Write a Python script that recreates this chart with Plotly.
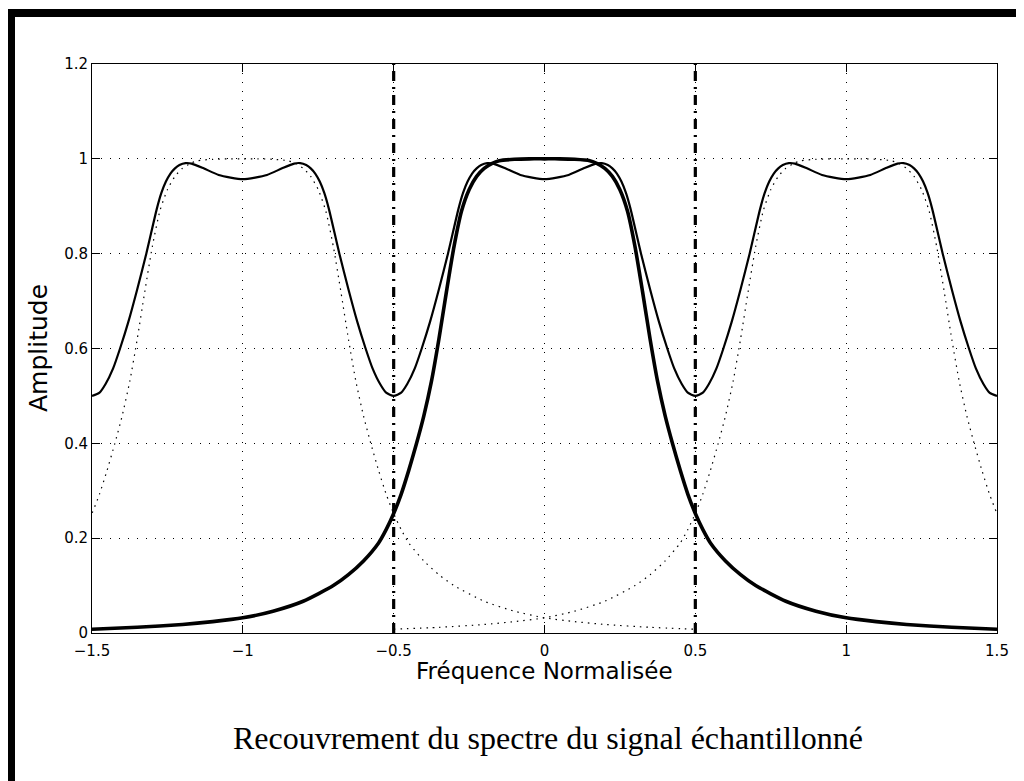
import plotly.graph_objects as go

# ---------------- data ----------------
x_tickvals = [-1.5, -1, -0.5, 0, 0.5, 1, 1.5]
x_ticktext = ["\u22121.5", "\u22121", "\u22120.5", "0", "0.5", "1", "1.5"]
y_tickvals = [0, 0.2, 0.4, 0.6, 0.8, 1, 1.2]
y_ticktext = ["0", "0.2", "0.4", "0.6", "0.8", "1", "1.2"]

# central spectrum (thick solid)
freq_main = [-1.5, -1.35, -1.2, -1.1, -1.0, -0.9, -0.8, -0.7, -0.65, -0.6, -0.55, -0.525,
             -0.5, -0.475, -0.45, -0.425, -0.4, -0.375, -0.35, -0.325, -0.3, -0.275, -0.25,
             -0.225, -0.2, -0.175, -0.15, -0.1, -0.05, 0.0, 0.05, 0.1, 0.15, 0.175, 0.2,
             0.225, 0.25, 0.275, 0.3, 0.325, 0.35, 0.375, 0.4, 0.425, 0.45, 0.475, 0.5,
             0.525, 0.55, 0.6, 0.65, 0.7, 0.8, 0.9, 1.0, 1.1, 1.2, 1.35, 1.5]
amp_main = [0.008, 0.012, 0.018, 0.024, 0.032, 0.046, 0.067, 0.100, 0.123, 0.152, 0.190, 0.218,
            0.252, 0.293, 0.343, 0.398, 0.458, 0.530, 0.62, 0.72, 0.815, 0.89, 0.935,
            0.963, 0.98, 0.99, 0.996, 0.999, 1.0, 1.0, 1.0, 0.999, 0.996, 0.99, 0.98,
            0.963, 0.935, 0.89, 0.815, 0.72, 0.62, 0.530, 0.458, 0.398, 0.343, 0.293, 0.252,
            0.218, 0.190, 0.152, 0.123, 0.100, 0.067, 0.046, 0.032, 0.024, 0.018, 0.012, 0.008]

# shifted replicas of the spectrum (dotted)
replica_shifts = [-1, 1]

# aliased (summed) spectrum (thin solid)
freq_alias = [-1.5, -1.475, -1.455, -1.43, -1.407, -1.38, -1.35, -1.32, -1.285, -1.27, -1.255,
              -1.24, -1.225, -1.21, -1.19, -1.17, -1.13, -1.08, -1.0, -0.92, -0.87, -0.83,
              -0.81, -0.79, -0.775, -0.76, -0.745, -0.73, -0.715, -0.68, -0.65, -0.62, -0.593,
              -0.57, -0.545, -0.525, -0.5, -0.475, -0.455, -0.43, -0.407, -0.38, -0.35, -0.32,
              -0.285, -0.27, -0.255, -0.24, -0.225, -0.21, -0.19, -0.17, -0.13, -0.08, 0.0,
              0.08, 0.13, 0.17, 0.19, 0.21, 0.225, 0.24, 0.255, 0.27, 0.285, 0.32, 0.35, 0.38,
              0.407, 0.43, 0.455, 0.475, 0.5, 0.525, 0.545, 0.57, 0.593, 0.62, 0.65, 0.68,
              0.715, 0.73, 0.745, 0.76, 0.775, 0.79, 0.81, 0.83, 0.87, 0.92, 1.0, 1.08, 1.13,
              1.17, 1.19, 1.21, 1.225, 1.24, 1.255, 1.27, 1.285, 1.32, 1.35, 1.38, 1.407,
              1.43, 1.455, 1.475, 1.5]
amp_alias = [0.50, 0.507, 0.525, 0.558, 0.60, 0.655, 0.725, 0.80, 0.895, 0.928, 0.952,
             0.969, 0.980, 0.987, 0.991, 0.990, 0.980, 0.966, 0.957, 0.966, 0.980, 0.990,
             0.991, 0.987, 0.980, 0.969, 0.952, 0.928, 0.895, 0.80, 0.725, 0.655, 0.60,
             0.558, 0.525, 0.507, 0.50, 0.507, 0.525, 0.558, 0.60, 0.655, 0.725, 0.80,
             0.895, 0.928, 0.952, 0.969, 0.980, 0.987, 0.991, 0.990, 0.980, 0.966, 0.957,
             0.966, 0.980, 0.990, 0.991, 0.987, 0.980, 0.969, 0.952, 0.928, 0.895, 0.80, 0.725, 0.655,
             0.60, 0.558, 0.525, 0.507, 0.50, 0.507, 0.525, 0.558, 0.60, 0.655, 0.725, 0.80,
             0.895, 0.928, 0.952, 0.969, 0.980, 0.987, 0.991, 0.990, 0.980, 0.966, 0.957, 0.966, 0.980,
             0.990, 0.991, 0.987, 0.980, 0.969, 0.952, 0.928, 0.895, 0.80, 0.725, 0.655, 0.60,
             0.558, 0.525, 0.507, 0.50]

# Nyquist limits (dash-dot)
cutoffs = [-0.5, 0.5]
cutoff_span = [0, 1.2]

# ---------------- figure ----------------
# page body adds an 8 px offset; figure is sized so it fills the 1024x781 window
OFF = 8
W, H = 1024 - OFF, 781 - OFF
L, R, T, B = 92 - OFF, 1024 - 997, 64 - OFF, 781 - 633
PW, PH = W - L - R, H - T - B


def px_x(p):
    """window pixel -> paper x"""
    return (p - OFF - L) / PW


def px_y(p):
    """window pixel -> paper y"""
    return (H - B - (p - OFF)) / PH


fig = go.Figure()

for s in replica_shifts:
    fig.add_trace(go.Scatter(
        x=[f + s for f in freq_main], y=amp_main, mode="lines",
        line=dict(color="black", width=1.2, dash="1.5px,5px", shape="spline", smoothing=0.6),
        hoverinfo="skip", showlegend=False))

for c in cutoffs:
    fig.add_trace(go.Scatter(
        x=[c, c], y=cutoff_span, mode="lines",
        line=dict(color="black", width=3.2, dash="10px,6px,2px,6px"),
        hoverinfo="skip", showlegend=False))

fig.add_trace(go.Scatter(
    x=freq_alias, y=amp_alias, mode="lines",
    line=dict(color="black", width=2.2, shape="spline", smoothing=0.6),
    hoverinfo="skip", showlegend=False))

fig.add_trace(go.Scatter(
    x=freq_main, y=amp_main, mode="lines",
    line=dict(color="black", width=3.6, shape="spline", smoothing=0.6),
    hoverinfo="skip", showlegend=False))

axis_common = dict(
    showline=True, linecolor="black", linewidth=1, mirror="ticks",
    ticks="inside", ticklen=8, tickcolor="black", tickwidth=1,
    showgrid=True, gridcolor="black", gridwidth=1, griddash="1px,8px",
    zeroline=False, tickfont=dict(family="DejaVu Sans", size=15, color="black"),
)

fig.update_xaxes(range=[-1.5, 1.5], tickvals=x_tickvals, ticktext=x_ticktext,
                 ticklabelstandoff=4, **axis_common)
fig.update_yaxes(range=[0, 1.2], tickvals=y_tickvals, ticktext=y_ticktext, **axis_common)

fig.add_annotation(text="Fréquence Normalisée", xref="paper", yref="paper",
                   x=px_x(544.5), y=px_y(671), xanchor="center", yanchor="middle",
                   showarrow=False, font=dict(family="DejaVu Sans", size=23, color="black"))
fig.add_annotation(text="Amplitude", xref="paper", yref="paper",
                   x=px_x(38), y=px_y(348), xanchor="center", yanchor="middle", textangle=-90,
                   showarrow=False, font=dict(family="DejaVu Sans", size=25, color="black"))
fig.add_annotation(text="Recouvrement du spectre du signal échantillonné", xref="paper", yref="paper",
                   x=px_x(548), y=px_y(738), xanchor="center", yanchor="middle",
                   showarrow=False, font=dict(family="Liberation Serif", size=32, color="black"))

# black frame bars (left and top edges of the page)
fig.add_shape(type="rect", xref="paper", yref="paper", x0=px_x(8), x1=px_x(15),
              y0=px_y(790), y1=px_y(9), fillcolor="black", line=dict(width=0), layer="above")
fig.add_shape(type="rect", xref="paper", yref="paper", x0=px_x(8), x1=px_x(1030),
              y0=px_y(17), y1=px_y(9), fillcolor="black", line=dict(width=0), layer="above")

fig.update_layout(
    width=W, height=H, margin=dict(l=L, r=R, t=T, b=B, autoexpand=False),
    paper_bgcolor="white", plot_bgcolor="white", showlegend=False,
)

fig.write_html("out.html")
